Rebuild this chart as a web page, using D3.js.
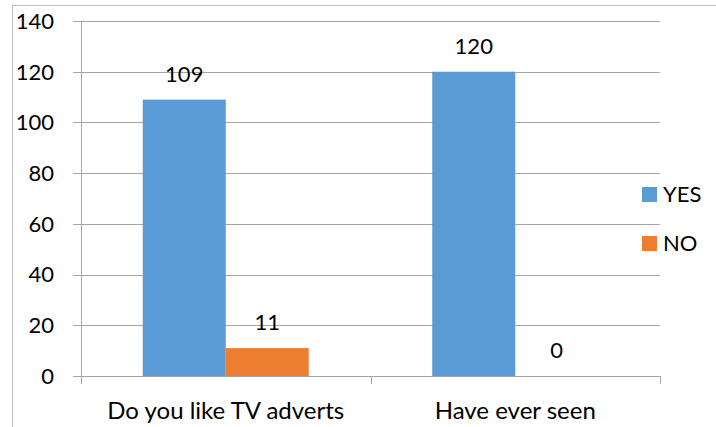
<!DOCTYPE html>
<html>
<head>
<meta charset="utf-8">
<script src="https://cdn.jsdelivr.net/npm/d3@7"></script>
<style>
  html, body { margin: 0; padding: 0; background: #fff; }
  svg { display: block; }
  text { font-family: Lato, "Open Sans", sans-serif; fill: #000; }
</style>
</head>
<body>
<svg id="chart" width="716" height="427"></svg>
<script>
// Survey answers per question
const categories = ["Do you like TV adverts", "Have ever seen"];
const seriesNames = ["YES", "NO"];
const yesValues = [109, 120];
const noValues = [11, 0];
const yTicks = [0, 20, 40, 60, 80, 100, 120, 140];
const colors = { YES: "#5B9BD5", NO: "#ED7D31" };

const svg = d3.select("#chart");
const W = 716, H = 427;
const plot = { left: 81, right: 660, top: 21, bottom: 376 };
const numSize = 22, catSize = 24, legendSize = 22;

// Outer frame of the chart area
svg.append("rect")
  .attr("x", 12.5).attr("y", 5.5)
  .attr("width", W + 10).attr("height", H + 10)
  .attr("fill", "none").attr("stroke", "#bfbfbf").attr("stroke-width", 1);

const y = d3.scaleLinear().domain([0, 140]).range([plot.bottom, plot.top]);
const x0 = d3.scaleBand().domain(categories).range([plot.left, plot.right]).padding(0);
const x1 = d3.scaleBand().domain(seriesNames).range([0, x0.bandwidth()])
  .paddingInner(0).paddingOuter(0.744);

// Horizontal gridlines with short tick stubs to the left
const yAxis = d3.axisLeft(y).tickValues(yTicks).tickSize(-(plot.right - plot.left)).tickPadding(0).tickFormat("");
const gy = svg.append("g").attr("transform", `translate(${plot.left},0)`).call(yAxis);
gy.select(".domain").remove();
gy.selectAll(".tick line")
  .attr("x1", -8)
  .attr("stroke", "#a6a6a6").attr("shape-rendering", "crispEdges");

// Vertical axis line
svg.append("line")
  .attr("x1", plot.left + 0.5).attr("x2", plot.left + 0.5)
  .attr("y1", y(140)).attr("y2", plot.bottom + 0.5)
  .attr("stroke", "#a6a6a6");

// Y tick labels
svg.append("g").selectAll("text").data(yTicks).join("text")
  .attr("x", 54).attr("y", d => y(d))
  .attr("dy", "0.36em")
  .attr("text-anchor", "end")
  .attr("font-size", numSize)
  .text(d => d);

// Bars
const rows = categories.map((c, i) => ({ cat: c, YES: yesValues[i], NO: noValues[i] }));
const groups = svg.append("g").selectAll("g").data(rows).join("g")
  .attr("transform", d => `translate(${x0(d.cat)},0)`);

groups.selectAll("rect").data(d => seriesNames.map(s => ({ s, v: d[s] }))).join("rect")
  .attr("x", d => x1(d.s))
  .attr("width", x1.bandwidth())
  .attr("y", d => y(d.v))
  .attr("height", d => y(0) - y(d.v))
  .attr("fill", d => colors[d.s]);

// Value labels above bars
groups.selectAll("text").data(d => seriesNames.map(s => ({ s, v: d[s] }))).join("text")
  .attr("x", d => x1(d.s) + x1.bandwidth() / 2)
  .attr("y", d => y(d.v) - 18)
  .attr("text-anchor", "middle")
  .attr("font-size", numSize)
  .text(d => d.v);

// Category axis with downward ticks at band boundaries
svg.append("line")
  .attr("x1", plot.left).attr("x2", plot.right + 0.5)
  .attr("y1", plot.bottom + 0.5).attr("y2", plot.bottom + 0.5)
  .attr("stroke", "#a6a6a6");
const boundaries = [plot.left, ...categories.map(c => x0(c) + x0.bandwidth())];
svg.append("g").selectAll("line").data(boundaries).join("line")
  .attr("x1", d => Math.round(d) + 0.5).attr("x2", d => Math.round(d) + 0.5)
  .attr("y1", plot.bottom).attr("y2", plot.bottom + 8)
  .attr("stroke", "#a6a6a6");

svg.append("g").selectAll("text").data(categories).join("text")
  .attr("x", d => x0(d) + x0.bandwidth() / 2)
  .attr("y", 419)
  .attr("text-anchor", "middle")
  .attr("font-size", catSize)
  .text(d => d);

// Legend
const legend = svg.append("g").selectAll("g").data(seriesNames).join("g")
  .attr("transform", (d, i) => `translate(642,${187 + i * 49})`);
legend.append("rect").attr("width", 15).attr("height", 15).attr("fill", d => colors[d]);
legend.append("text").attr("x", 21).attr("y", 15).attr("font-size", legendSize).text(d => d);
</script>
</body>
</html>
